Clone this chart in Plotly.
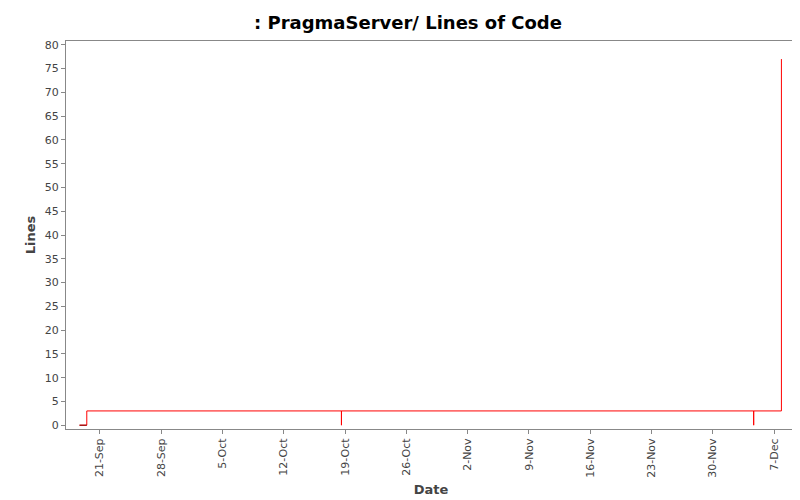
import plotly.graph_objects as go

dates = ["2008-09-18 16:00", "2008-09-19 12:00", "2008-10-18 14:00", "2008-10-18 14:00",
         "2008-12-04 16:00", "2008-12-04 16:00", "2008-12-07 20:00"]
lines = [0, 3, 0, 3, 0, 3, 77]
tick_dates = ["2008-09-21", "2008-09-28", "2008-10-05", "2008-10-12", "2008-10-19", "2008-10-26",
              "2008-11-02", "2008-11-09", "2008-11-16", "2008-11-23", "2008-11-30", "2008-12-07"]
tick_labels = ["21-Sep", "28-Sep", "5-Oct", "12-Oct", "19-Oct", "26-Oct",
               "2-Nov", "9-Nov", "16-Nov", "23-Nov", "30-Nov", "7-Dec"]
y_ticks = list(range(0, 81, 5))

fig = go.Figure()
fig.add_trace(go.Scatter(x=dates, y=lines, mode="lines", line=dict(color="red", width=1, shape="hv"),
                         showlegend=False))
fig.add_trace(go.Scatter(x=dates[:2], y=[0, 0], mode="lines", line=dict(color="#800000", width=1),
                         showlegend=False))
fig.update_layout(
    width=800, height=500, plot_bgcolor="white", paper_bgcolor="white",
    margin=dict(l=58, r=12, t=33, b=79),
    font=dict(family="DejaVu Sans", size=11, color="#444"),
    title=dict(text="<b>: PragmaServer/ Lines of Code</b>", x=0.5, xanchor="center",
               yref="container", y=0.97, yanchor="middle",
               font=dict(size=18, color="black")),
    xaxis=dict(range=["2008-09-17 03:00", "2008-12-09 12:00"], tickvals=tick_dates, ticktext=tick_labels,
               tickangle=-90, showgrid=False, showline=True, linecolor="#888", mirror=True,
               ticks="outside", ticklen=4, tickcolor="#888", automargin=False,
               title=dict(text="<b>Date</b>", standoff=8, font=dict(size=13, color="#444"))),
    yaxis=dict(range=[-0.8, 80.8], tickvals=y_ticks, showgrid=False, showline=True, linecolor="#888",
               mirror=True, ticks="outside", ticklen=4, tickcolor="#888", zeroline=False, automargin=False,
               title=dict(text="<b>Lines</b>", standoff=6, font=dict(size=13, color="#444"))),
)
fig.write_html("out.html")
